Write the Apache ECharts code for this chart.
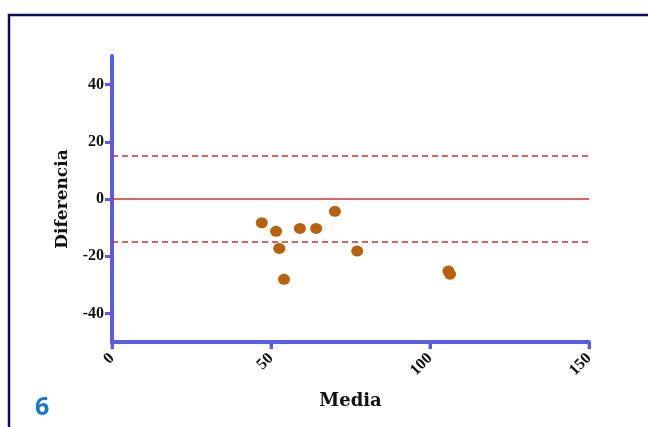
<!DOCTYPE html>
<html><head><meta charset="utf-8">
<script src="https://cdn.jsdelivr.net/npm/echarts@6/dist/echarts.min.js"></script>
<style>html,body{margin:0;padding:0;background:#fff}#c{width:648px;height:427px}</style>
</head><body><div id="c"></div>
<script>
const mediaValues = [47.1, 51.6, 52.6, 54.1, 59.1, 64.2, 70.1, 77.1, 105.8, 106.3];
const diffValues  = [-8.3, -11.3, -17.3, -28.1, -10.3, -10.3, -4.3, -18.2, -25.2, -26.3];
const meanDiff = 0;
const limits = [15, -15];
const yTicks = [-40, -20, 0, 20, 40];
const xTicks = [0, 50, 100, 150];
const yMin = -50, yMax = 50;

const points = mediaValues.map((m, i) => [m, diffValues[i]]);
const axisColor = '#5b5be6';
const chart = echarts.init(document.getElementById('c'), null, {renderer: 'canvas'});
chart.setOption({
  animation: false,
  backgroundColor: '#fff',
  grid: {left: 112, right: 59, top: 56, bottom: 85, containLabel: false},
  xAxis: {
    type: 'value', min: 0, max: 150, interval: 50,
    name: 'Media', nameLocation: 'middle', nameGap: 50,
    nameTextStyle: {fontFamily: 'DejaVu Serif', fontWeight: 'bold', fontSize: 18, color: '#111'},
    axisLine: {show: true, onZero: false, lineStyle: {color: axisColor, width: 4, cap: 'round'}},
    axisTick: {show: true, inside: false, length: 7, lineStyle: {color: axisColor, width: 3}},
    axisLabel: {rotate: 45, margin: 14, fontFamily: 'Liberation Serif', fontWeight: 'bold', fontSize: 16, color: '#111'},
    splitLine: {show: false}
  },
  yAxis: {
    type: 'value', min: yMin, max: yMax,
    name: 'Diferencia', nameLocation: 'middle', nameGap: 41, nameRotate: 90,
    nameTextStyle: {fontFamily: 'DejaVu Serif', fontWeight: 'bold', fontSize: 17, color: '#111'},
    axisLine: {show: true, onZero: false, lineStyle: {color: axisColor, width: 4, cap: 'round'}},
    axisTick: {show: true, length: 7, inside: false, lineStyle: {color: axisColor, width: 3}, customValues: yTicks},
    axisLabel: {margin: 8, fontFamily: 'Liberation Serif', fontWeight: 'bold', fontSize: 16, color: '#111', customValues: yTicks},
    splitLine: {show: false}
  },
  graphic: [
    {type: 'rect', shape: {x: 9, y: 15, width: 700, height: 500}, style: {fill: 'none', stroke: '#0d0d5c', lineWidth: 2.5}, z: 100},
    {type: 'text', left: 35, top: 395, style: {text: '6', fontFamily: 'Noto Sans', fontWeight: 'bold', fontSize: 25, fill: '#1a78c8'}}
  ],
  series: [
    {
      type: 'scatter', data: points, symbol: 'circle', symbolSize: [12, 11],
      itemStyle: {color: '#b8600c', opacity: 1}, z: 5,
      markLine: {
        silent: true, symbol: 'none', label: {show: false},
        data: [
          {yAxis: meanDiff, lineStyle: {type: 'solid', color: '#cc3333', width: 1.5}},
          {yAxis: limits[0], lineStyle: {type: [6, 4], color: '#cc3333', width: 1.5}},
          {yAxis: limits[1], lineStyle: {type: [6, 4], color: '#cc3333', width: 1.5}}
        ]
      }
    },
    {
      type: 'scatter', silent: true, clip: false, z: 1,
      data: xTicks.map(x => [x, yMin]),
      symbol: 'rect', symbolSize: [3, 7], symbolOffset: [0, 3.5],
      itemStyle: {color: axisColor}
    }
  ]
});
</script></body></html>
